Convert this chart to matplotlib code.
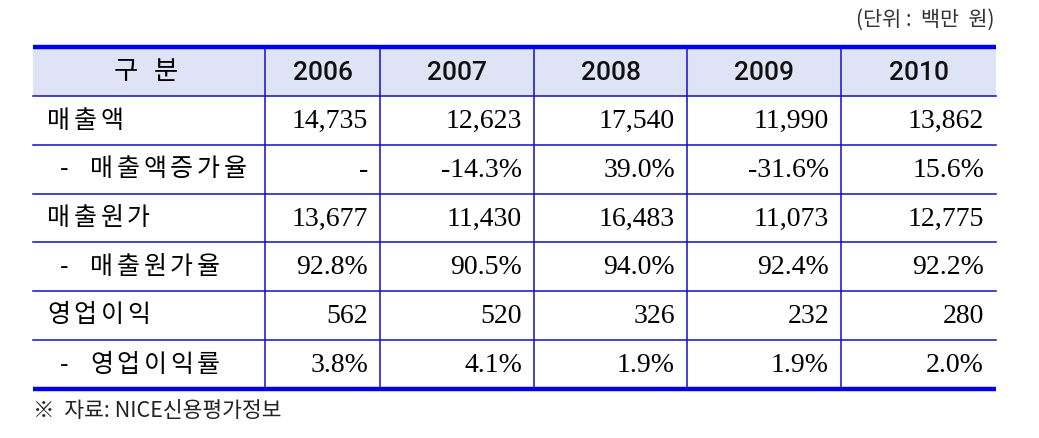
import matplotlib.pyplot as plt
from matplotlib.patches import Rectangle

plt.rcParams['font.family'] = ['Noto Sans CJK KR', 'DejaVu Sans']

years = ["2006", "2007", "2008", "2009", "2010"]
row_labels = ["매출액", "- 매출액증가율", "매출원가", "- 매출원가율", "영업이익", "- 영업이익률"]
sales = ["14,735", "12,623", "17,540", "11,990", "13,862"]
sales_growth = ["-", "-14.3%", "39.0%", "-31.6%", "15.6%"]
cost = ["13,677", "11,430", "16,483", "11,073", "12,775"]
cost_ratio = ["92.8%", "90.5%", "94.0%", "92.4%", "92.2%"]
op_income = ["562", "520", "326", "232", "280"]
op_margin = ["3.8%", "4.1%", "1.9%", "1.9%", "2.0%"]
rows = [sales, sales_growth, cost, cost_ratio, op_income, op_margin]
unit_note = "(단위 :  백만  원)"
source_note = "※  자료: NICE신용평가정보"

# layout in pixels
col_x = [33, 265, 380, 534, 687, 841, 996]
row_y = [47, 96, 145, 194, 242, 291, 340, 389]
line_c = "#1010c8"
thick_c = "#0000ee"
pitch = 26.7  # spacing of korean glyphs, batang-like


def spaced(ax, x, y, s, size=18):
    # draw glyphs one by one to get the wide spacing of the original
    for k, ch in enumerate(s):
        ax.text(x + k * pitch, y, ch, ha="left", va="center", fontsize=size)


fig = plt.figure(figsize=(10.39, 4.38), dpi=100)
ax = fig.add_axes([0, 0, 1, 1])
ax.set_xlim(0, 1039)
ax.set_ylim(438, 0)
ax.axis("off")

# header background
ax.add_patch(Rectangle((col_x[0], row_y[0]), col_x[-1] - col_x[0], row_y[1] - row_y[0],
                       facecolor="#dfe3f6", edgecolor="none"))

# horizontal lines
for y in row_y[1:-1]:
    ax.plot([col_x[0], col_x[-1]], [y, y], color=line_c, lw=1.1)
ax.plot([col_x[0], col_x[-1]], [row_y[0], row_y[0]], color=thick_c, lw=3.2, solid_capstyle="butt")
ax.plot([col_x[0], col_x[-1]], [row_y[-1], row_y[-1]], color=thick_c, lw=3.2, solid_capstyle="butt")
# vertical lines
for x in col_x[1:-1]:
    ax.plot([x, x], [row_y[0], row_y[-1]], color=line_c, lw=1.1)

# header text
hy = (row_y[0] + row_y[1]) / 2
ax.text(126, hy, "구", ha="center", va="center", fontsize=19, fontweight="medium")
ax.text(166, hy, "분", ha="center", va="center", fontsize=19, fontweight="medium")
for i, yr in enumerate(years):
    ax.text((col_x[i + 1] + col_x[i + 2]) / 2, hy + 1, yr, ha="center", va="center",
            fontsize=19, family=["Roboto"], fontweight="medium", color="#111111")

# body
for r, (lab, vals) in enumerate(zip(row_labels, rows)):
    cy = (row_y[r + 1] + row_y[r + 2]) / 2
    if lab.startswith("-"):
        ax.text(60, cy, "-", ha="left", va="center", fontsize=18)
        spaced(ax, 90, cy, lab[2:])
    else:
        spaced(ax, 47, cy, lab)
    for c, v in enumerate(vals):
        ax.text(col_x[c + 2] - 12, cy + 1, v, ha="right", va="center", fontsize=20,
                family=["Liberation Serif"])

ax.text(994, 20, unit_note, ha="right", va="center", fontsize=15, color="#333333")
ax.text(33, 411, source_note, ha="left", va="center", fontsize=15.5, color="#222222")

fig.savefig("out.png", dpi=100)
